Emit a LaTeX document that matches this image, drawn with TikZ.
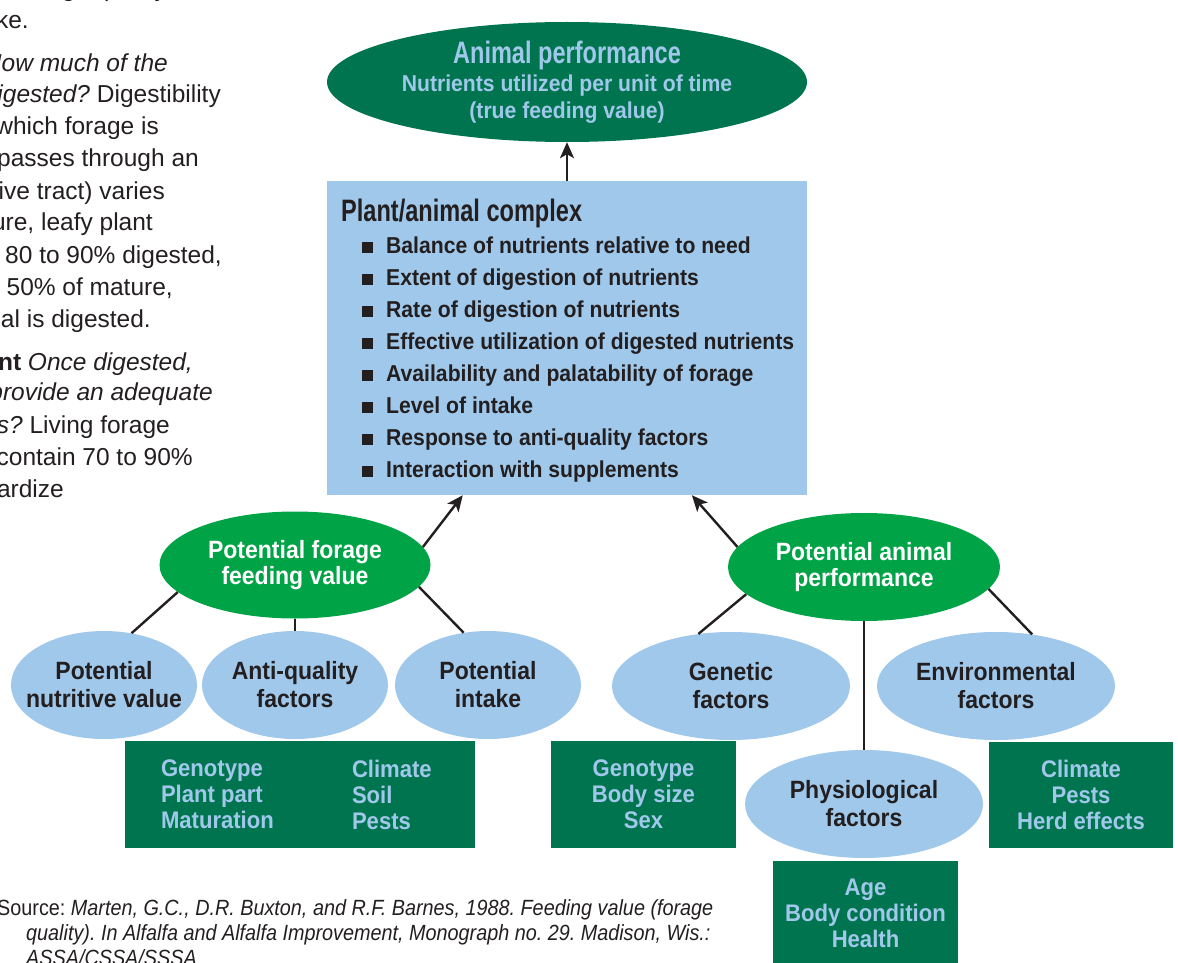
\documentclass[tikz,border=0pt]{standalone}
\usepackage{fontspec}
\setmainfont{Liberation Sans}
\newfontfamily\condfont{Liberation Sans}[FakeStretch=0.92]
\newfontfamily\comprfont{Liberation Sans}[FakeStretch=0.76]
\newfontfamily\bodyfont{Liberation Sans}[FakeStretch=1.0]
\newfontfamily\srcfont{Liberation Sans}[FakeStretch=0.9]
\usepackage{tikz}
\usetikzlibrary{shapes.geometric, arrows.meta, positioning, calc}
\definecolor{deepGreen}{HTML}{00744F}
\definecolor{leafGreen}{HTML}{00A346}
\definecolor{skyBlue}{HTML}{A0C8EB}
\definecolor{inkBlack}{HTML}{231F20}
\newcommand{\sqbul}{\rule{11pt}{11pt}\hspace{13pt}}
\frenchspacing

\begin{document}
\begin{tikzpicture}[x=1pt,y=-1pt,
    bigoval/.style={ellipse,fill=deepGreen,minimum width=480pt,minimum height=120pt,
                    inner xsep=-40pt,inner ysep=-10pt,text=skyBlue,align=center,
                    font=\condfont\bfseries\fontsize{23}{27}\selectfont},
    greenoval/.style={ellipse,fill=leafGreen,minimum width=271pt,minimum height=107pt,
                      inner xsep=-40pt,inner ysep=0pt,text=white,align=center,
                      font=\condfont\bfseries\fontsize{25}{26}\selectfont},
    blueoval/.style={ellipse,fill=skyBlue,minimum width=238pt,minimum height=108pt,
                     inner xsep=-40pt,inner ysep=0pt,text=inkBlack,align=center,
                     font=\condfont\bfseries\fontsize{25}{28}\selectfont},
    listbox/.style={rectangle,fill=deepGreen,inner sep=0pt,text=skyBlue,align=center,
                    font=\condfont\bfseries\fontsize{24}{26}\selectfont},
    listcol/.style={anchor=west,inner sep=0pt,text=skyBlue,align=left,
                    font=\condfont\bfseries\fontsize{24}{26}\selectfont},
    item/.style={anchor=base west,inner sep=0pt,text=inkBlack,
                 font=\condfont\bfseries\fontsize{23}{32}\selectfont},
    bodyline/.style={anchor=base east,inner sep=0pt,text=inkBlack,
                     font=\bodyfont\fontsize{24.5}{32}\selectfont},
    srcline/.style={anchor=base west,inner sep=0pt,text=inkBlack,
                    font=\srcfont\fontsize{22}{25}\selectfont},
    link/.style={line width=2.4pt,inkBlack},
    feed/.style={-{Stealth[length=16pt,width=14pt,inset=4pt]},line width=2.4pt,inkBlack}
]
    \useasboundingbox (0,0) rectangle (1178,963);

    % Page text cut by the left margin
    \node[bodyline] (p0) at (172,-3) {forage quality,};
    \node[bodyline] (p1) at (29,29) {intake.};
    \node[bodyline] (p2) at (168,72) {\textit{How much of the}};
    \node[bodyline] (p3) at (221,103) {\textit{digested?} Digestibility};
    \node[bodyline] (p4) at (159,135) {which forage is};
    \node[bodyline] (p5) at (199,167) {passes through an};
    \node[bodyline] (p6) at (165,199) {digestive tract) varies};
    \node[bodyline] (p7) at (153,230) {immature, leafy plant};
    \node[bodyline] (p8) at (222,263) {80 to 90\% digested,};
    \node[bodyline] (p9) at (173,295) {50\% of mature,};
    \node[bodyline] (p10) at (151,327) {material is digested.};
    \node[bodyline] (p11) at (193,370) {\textbf{content} \textit{Once digested,}};
    \node[bodyline] (p12) at (213,400) {\textit{provide an adequate}};
    \node[bodyline] (p13) at (170,433) {\textit{nutrients?} Living forage};
    \node[bodyline] (p14) at (193,465) {contain 70 to 90\%};
    \node[bodyline] (p15) at (64,497) {standardize};

    % Source
    \node[srcline] (src1) at (-3,915) {Source: \textit{Marten, G.C., D.R. Buxton, and R.F. Barnes, 1988. Feeding value (forage}};
    \node[srcline] (src2) at (26,940) {\textit{quality). In Alfalfa and Alfalfa Improvement, Monograph no. 29. Madison, Wis.:}};
    \node[srcline] (src3) at (26,965) {\textit{ASSA/CSSA/SSSA}};

    % Animal performance
    \node[bigoval] (perf) at (567,82) {
        {\comprfont\fontsize{31}{31}\selectfont Animal performance}\\[1pt]
        Nutrients utilized per unit of time\\
        (true feeding value)
    };

    % Plant/animal complex
    \node[rectangle,fill=skyBlue,minimum width=480pt,minimum height=314pt,inner sep=0pt] (plex) at (567,338) {};
    \node[anchor=base west,inner sep=0pt,text=inkBlack,font=\comprfont\bfseries\fontsize{31}{31}\selectfont]
        (plextitle) at (341,221) {Plant/animal complex};
    \foreach \txt [count=\i from 0] in {Balance of nutrients relative to need,
        Extent of digestion of nutrients, Rate of digestion of nutrients,
        Effective utilization of digested nutrients, Availability and palatability of forage,
        Level of intake, Response to anti-quality factors, Interaction with supplements}
        \node[item] (need\i) at (362,253+32*\i) {\sqbul\txt};

    % Potential forage feeding value
    \node[greenoval] (forage) at (295,565) {Potential forage\\feeding value};
    \node[blueoval,minimum width=186pt] (nutri) at (104,685) {Potential\\nutritive value};
    \node[blueoval,minimum width=186pt] (antiq) at (295,685) {Anti-quality\\factors};
    \node[blueoval,minimum width=186pt] (intake) at (488,685) {Potential\\intake};
    \node[listbox,minimum width=350pt,minimum height=107pt] (plantbox) at (300,794.5) {};
    \node[listcol] (plantcol) at ($(plantbox.west)+(36,0)$) {Genotype\\Plant part\\Maturation};
    \node[listcol] (sitecol) at ($(plantbox.west)+(227,0)$) {Climate\\Soil\\Pests};

    % Potential animal performance
    \node[greenoval,minimum width=272pt,minimum height=108pt] (animal) at (864,567) {Potential animal\\performance};
    \node[blueoval] (genetic) at (731,686) {Genetic\\factors};
    \node[blueoval] (environ) at (996,686) {Environmental\\factors};
    \node[blueoval] (physio) at (864,804) {Physiological\\factors};
    \node[listbox,minimum width=185pt,minimum height=107pt] (genebox) at (643.5,794.5) {Genotype\\Body size\\Sex};
    \node[listbox,minimum width=184pt,minimum height=106pt] (envbox) at (1081,794.5) {Climate\\Pests\\Herd effects};
    \node[listbox,minimum width=185pt,minimum height=104pt] (agebox) at (865.5,913) {Age\\Body condition\\Health};

    % Lines
    \draw[link] (forage.193) -- (nutri.62);
    \draw[link] (forage.south) -- (antiq.north);
    \draw[link] (forage.350) -- (intake.115);
    \draw[link] (animal.193) -- (genetic.122);
    \draw[link] (animal.south) -- (physio.north);
    \draw[link] (animal.350) -- (environ.55);

    % Arrows
    \draw[feed] (plex.north) -- (perf.south);
    \draw[feed] (forage.8) -- ($(plex.south west)!0.283!(plex.south east)$);
    \draw[feed] (animal.171) -- ($(plex.south west)!0.76!(plex.south east)$);
\end{tikzpicture}
\end{document}
